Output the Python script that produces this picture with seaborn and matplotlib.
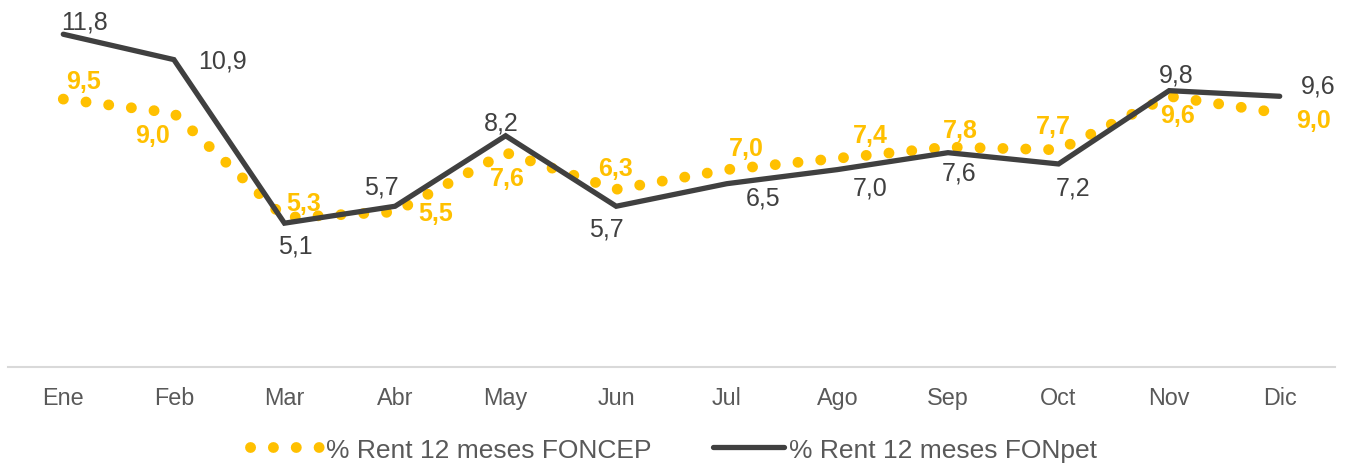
import matplotlib
matplotlib.use("Agg")
import matplotlib.pyplot as plt
import seaborn as sns
import pandas as pd

# ---- data ----
months = ["Ene", "Feb", "Mar", "Abr", "May", "Jun", "Jul", "Ago", "Sep", "Oct", "Nov", "Dic"]
foncep = [9.5, 9.0, 5.3, 5.5, 7.6, 6.3, 7.0, 7.4, 7.8, 7.7, 9.6, 9.0]
fonpet = [11.8, 10.9, 5.1, 5.7, 8.2, 5.7, 6.5, 7.0, 7.6, 7.2, 9.8, 9.6]
label_foncep = "% Rent 12 meses FONCEP"
label_fonpet = "% Rent 12 meses FONpet"

# ---- style ----
YELLOW = "#FFC000"
DARK = "#404040"
TEXT = "#595959"
AXIS = "#D9D9D9"

sns.set_theme(style="white")
plt.rcParams["font.family"] = ["Liberation Sans", "DejaVu Sans"]

fig = plt.figure(figsize=(13.46, 4.64), dpi=100)
ax = fig.add_axes([8 / 1346, 96 / 464, 1327 / 1346, 366.6 / 464])

df = pd.DataFrame({"mes": months, "foncep": foncep, "fonpet": fonpet})

sns.lineplot(data=df, x="mes", y="foncep", ax=ax, color=YELLOW, lw=7.8,
             linestyle=(0, (0.01, 2.10)), dash_capstyle="round",
             label=label_foncep, sort=False)
sns.lineplot(data=df, x="mes", y="fonpet", ax=ax, color=DARK, lw=3.8,
             solid_capstyle="round", solid_joinstyle="miter",
             label=label_fonpet, sort=False)

ax.set_xlim(-0.5, 11.5)
ax.set_ylim(0, 13)
ax.set_xlabel("")
ax.set_ylabel("")
ax.set_yticks([])
ax.tick_params(axis="x", length=0, pad=14, labelsize=16.8, labelcolor=TEXT)
for s in ["left", "right", "top"]:
    ax.spines[s].set_visible(False)
ax.spines["bottom"].set_color(AXIS)
ax.spines["bottom"].set_linewidth(1.5)

def fmt(v):
    return f"{v:.1f}".replace(".", ",")

# label offsets in pixels (dx, dy up)
off_fonpet = [(21, 13), (49, -1), (11, -22), (-14, 20), (-4, 13), (-10, -22),
              (36, -14), (33, -18), (11, -20), (15, -24), (7, 16), (38, 11)]
off_foncep = [(20, 18), (-21, -22), (19, 15), (41, -1), (2, -25), (-1, 21),
              (20, 22), (33, 23), (12, 17), (-5, 24), (8, -19), (34, -7)]

for i, v in enumerate(fonpet):
    ax.annotate(fmt(v), (i, v), xytext=off_fonpet[i], textcoords="offset pixels",
                ha="center", va="center", fontsize=18, color=DARK)
for i, v in enumerate(foncep):
    ax.annotate(fmt(v), (i, v), xytext=off_foncep[i], textcoords="offset pixels",
                ha="center", va="center", fontsize=18, color=YELLOW,
                fontweight="bold")

ax.get_legend().remove()
handles, labels = ax.get_legend_handles_labels()
fig.legend(handles, labels, loc="center", bbox_to_anchor=(0.5004, 0.029),
           ncol=2, frameon=False, fontsize=19, handlelength=2.7,
           handletextpad=0.2, columnspacing=2.3, labelcolor=TEXT,
           borderaxespad=0, borderpad=0)

fig.savefig("out.png", dpi=100)
